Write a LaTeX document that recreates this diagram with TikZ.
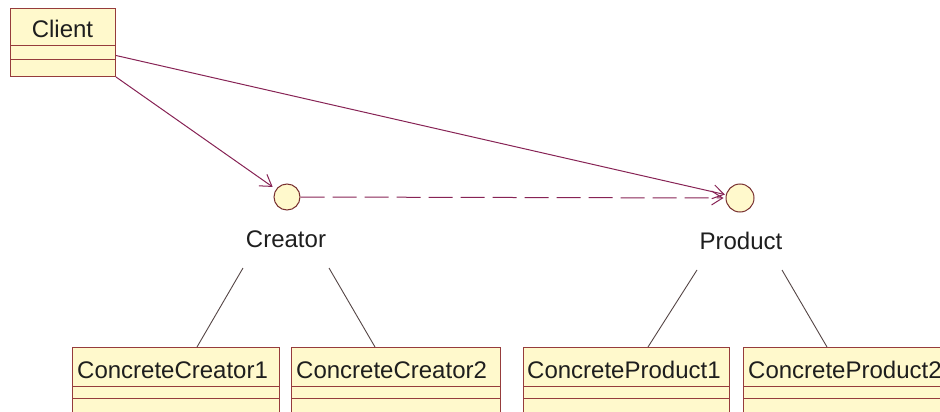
\documentclass[tikz,border=0pt]{standalone}
\usepackage{fontspec}
\setmainfont{Liberation Sans}
\usetikzlibrary{arrows.meta,calc}
\definecolor{boxfill}{RGB}{255,249,204}
\definecolor{boxdraw}{RGB}{150,60,60}
\definecolor{assoc}{RGB}{135,35,85}
\definecolor{realize}{RGB}{85,70,70}
\definecolor{txt}{RGB}{30,30,30}
\begin{document}
\begin{tikzpicture}[x=1pt,y=1pt,
  font=\fontsize{24}{28}\selectfont,
  classbox/.style={draw=boxdraw, fill=boxfill, line width=1pt, inner sep=0pt, anchor=north west},
  compline/.style={draw=boxdraw, line width=1pt},
  classname/.style={inner sep=0pt, text=txt},
  iface/.style={circle, draw=boxdraw!80!black, fill=boxfill, line width=1pt, inner sep=0pt},
  ilabel/.style={inner sep=0pt, text=txt, anchor=base},
  assocline/.style={draw=assoc, line width=1pt, -{Straight Barb[length=11pt,width=14pt]}},
  depline/.style={draw=assoc, line width=1pt, dash pattern=on 24pt off 8pt, -{Straight Barb[length=11pt,width=14pt]}},
  realline/.style={draw=realize, line width=0.9pt}]
\useasboundingbox (0,0) rectangle (940,-412);
\clip (0,0) rectangle (940,-412);

% Client class
\node[classbox, minimum width=105, minimum height=68] (client) at (10,-8) {};
\draw[compline] ([yshift=-38]client.north west) -- ([yshift=-38]client.north east);
\draw[compline] ([yshift=-52]client.north west) -- ([yshift=-52]client.north east);
\node[classname, anchor=base] (clientname) at (62.5,-38) {Client};

% interfaces
\node[iface, minimum size=26] (creator) at (287,-197) {};
\node[iface, minimum size=28] (product) at (740,-198) {};
\node[ilabel] (crlbl) at (286,-247) {Creator};
\node[ilabel] (prlbl) at (741,-249) {Product};

% concrete classes
\node[classbox, minimum width=207, minimum height=80] (cc1) at (72,-347) {};
\node[classbox, minimum width=209, minimum height=80] (cc2) at (291,-347) {};
\node[classbox, minimum width=206, minimum height=80] (cp1) at (523,-347) {};
\node[classbox, minimum width=210, minimum height=80] (cp2) at (743,-347) {};
\foreach \b in {cc1,cc2,cp1,cp2}{
  \draw[compline] ([yshift=-39]\b.north west) -- ([yshift=-39]\b.north east);
  \draw[compline] ([yshift=-51]\b.north west) -- ([yshift=-51]\b.north east);
}
\node[classname, anchor=base west] (cc1name) at (77,-378) {ConcreteCreator1};
\node[classname, anchor=base west] (cc2name) at (296,-378) {ConcreteCreator2};
\node[classname, anchor=base west] (cp1name) at (527,-378) {ConcreteProduct1};
\node[classname, anchor=base west] (cp2name) at (748,-378) {ConcreteProduct2};

% associations
\draw[assocline, shorten >=1pt] ([yshift=-13]client.east) -- (product);
\draw[assocline, shorten >=4pt] (client.south east) -- (creator);
\draw[depline, shorten >=2pt] (creator.east) -- (product.west);

% realization lines
\coordinate (c1top) at (243,-268);
\coordinate (c2top) at (329,-268);
\coordinate (p1top) at (697,-270);
\coordinate (p2top) at (782,-270);
\draw[realline] (c1top) -- (197,0 |- cc1.north);
\draw[realline] (c2top) -- (375,0 |- cc2.north);
\draw[realline] (p1top) -- (648,0 |- cp1.north);
\draw[realline] (p2top) -- (827,0 |- cp2.north);
\end{tikzpicture}
\end{document}
